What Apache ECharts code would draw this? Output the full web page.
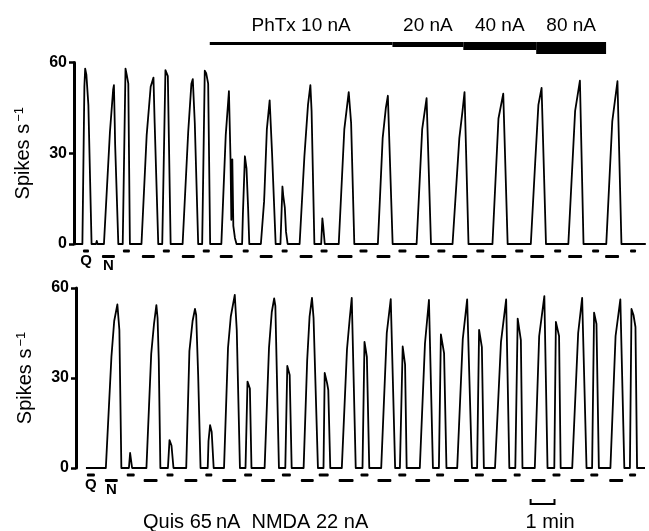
<!DOCTYPE html>
<html>
<head>
<meta charset="utf-8">
<script src="https://cdn.jsdelivr.net/npm/echarts@6/dist/echarts.min.js"></script>
<style>
	html, body { margin: 0; background: #fff; }
	#chart { width: 649px; height: 531px; }
</style>
</head>
<body>
<div id="chart"></div>
<script>
// time in seconds from the left axis, rate in spikes/s
const topTrace = [
	[3, 0], [21, 0], [26, 52], [28, 58], [31, 56], [36, 46], [44, 0], [55, 0], [57, 1], [59, 0],
	[75, 0], [90, 37], [98, 51], [100, 52.5], [102, 40], [103, 33], [111, 0],
	[122, 0], [129, 58], [132, 56], [136, 53], [140, 0],
	[169, 0], [182, 36], [192, 52], [199, 55], [202, 40], [211, 0],
	[221, 0], [229, 57.5], [235, 55.5], [242, 0],
	[272, 0], [286, 37], [294, 53], [297.5, 54.5], [302.5, 40], [311, 0],
	[321, 0], [327.5, 57.3], [331, 56.5], [336, 53], [341, 0],
	[369, 0], [380, 36], [388, 50.5], [392, 28], [394, 8], [396.5, 28], [399, 6], [403, 2], [407, 0],
	[421, 0], [423, 10], [428, 29], [432, 25], [436, 12], [439, 0],
	[468, 0], [476, 14], [477, 17], [483, 38], [490, 47.5], [496, 30], [505, 0],
	[517, 0], [522, 19], [524, 16], [528, 12], [531, 4], [535, 0],
	[565, 0], [577, 29], [586, 46], [592, 52.5], [595, 44], [602, 0],
	[619, 0], [622, 8.5], [624, 6], [628, 0],
	[663, 0], [677, 38], [688, 50.2], [694, 40], [702, 0],
	[761, 0], [773, 35], [781, 45], [786, 49], [798, 0],
	[858, 0], [872, 38], [883, 48.2], [894, 0],
	[948, 0], [965, 35], [973, 44], [978, 50.2], [988, 0],
	[1048, 0], [1063, 41.5], [1075, 49.7], [1086, 0],
	[1144, 0], [1155, 27], [1163, 46], [1171, 51.6], [1182, 0],
	[1238, 0], [1255, 44], [1267, 54], [1276, 0],
	[1333, 0], [1348, 40.5], [1361, 53.8], [1371, 0], [1432, 0]
];

const bottomTrace = [
	[25, 0], [75, 0], [89, 37], [96, 49], [104, 54.5], [106, 55], [109, 46], [114, 0],
	[133, 0], [136, 5], [138, 3], [141, 0],
	[177, 0], [189, 38], [196, 48], [202, 54.3], [205, 50], [208, 36], [212, 0],
	[231, 0], [235, 9.3], [240, 7.5], [245, 0],
	[277, 0], [285, 39], [293, 49], [299, 53], [302, 51], [307, 31], [313, 0],
	[331, 0], [333, 9], [337, 14.3], [341, 12], [346, 0],
	[372, 0], [382, 40], [389, 50.5], [399, 57.7], [404, 46], [412, 0],
	[426, 0], [431, 28.8], [437, 26.5], [441, 0],
	[474, 0], [485, 40], [492, 52], [498, 56.5], [501, 54], [510, 0],
	[526, 0], [531, 34], [537, 31], [542, 0],
	[572, 0], [581, 36], [587, 50.5], [593, 56.7], [597, 50], [608, 0],
	[622, 0], [625, 31.7], [631, 28.3], [634, 26], [639, 0],
	[668, 0], [681, 39.5], [688, 50], [693, 56.7], [703, 0],
	[720, 0], [725, 42], [731, 37], [737, 0],
	[767, 0], [781, 45], [791, 56.3], [802, 0],
	[814, 0], [821, 40.5], [827, 34.5], [831, 0],
	[864, 0], [877, 41.5], [887, 56], [897, 0],
	[912, 0], [917, 44.5], [925, 38.3], [931, 0],
	[958, 0], [972, 43], [983, 56.2], [995, 0],
	[1008, 0], [1013, 46], [1020, 40.3], [1025, 0],
	[1053, 0], [1068, 42], [1081, 56.2], [1089, 0],
	[1104, 0], [1110, 49.8], [1118, 42.6], [1122, 0],
	[1153, 0], [1164, 44], [1177, 57.3], [1185, 0],
	[1202, 0], [1206, 48.7], [1214, 44], [1218, 0],
	[1247, 0], [1262, 45], [1272, 56.7], [1283, 0],
	[1297, 0], [1302, 51.8], [1308, 48], [1314, 0],
	[1343, 0], [1356, 44], [1368, 56.2], [1378, 0],
	[1392, 0], [1396, 53], [1401, 51], [1406, 47], [1410, 0], [1430, 0]
];

// drug applications, [start, end] in s
const topQuis = [
	[22.5, 37.5], [122.5, 140], [222.5, 240], [322.5, 340], [422.5, 437.5], [520, 535],
	[617.5, 635], [715, 735], [812.5, 832.5], [910, 930], [1007.5, 1027.5], [1105, 1125],
	[1202.5, 1220], [1297.5, 1315], [1392.5, 1407.5]
];
const topNmda = [
	[70, 102.5], [170, 202.5], [270, 302.5], [365, 397.5], [465, 497.5], [565, 597.5],
	[660, 697.5], [757.5, 792.5], [855, 890], [947.5, 985], [1045, 1082.5], [1142.5, 1177.5],
	[1237.5, 1272.5], [1330, 1365]
];
const bottomQuis = [
	[27.5, 47.5], [127.5, 147.5], [227.5, 245], [325, 342.5], [422.5, 442.5], [517.5, 540],
	[610, 635], [715, 735], [810, 830], [905, 925], [1002.5, 1025], [1100, 1117.5],
	[1197.5, 1217.5], [1292.5, 1312.5], [1390, 1407.5]
];
const bottomNmda = [
	[72.5, 105], [170, 205], [272.5, 305], [367.5, 402.5], [465, 500], [565, 597.5],
	[660, 697.5], [757.5, 792.5], [852.5, 890], [950, 987.5], [1045, 1082.5], [1145, 1180],
	[1242.5, 1277.5], [1340, 1375]
];

// PhTx iontophoresis: [start, end, current nA]
const phtx = [[340, 797.5, 10], [797.5, 975, 20], [975, 1157.5, 40], [1157.5, 1332.5, 80]];
const phtxLabels = ['PhTx 10 nA', '20 nA', '40 nA', '80 nA'];

const yTicks = [0, 30, 60];
const scaleBar = [[1142.5, 1202.5]];
const scaleLabel = '1 min';
const currents = 'Quis 65\u2009nA  NMDA 22 nA';

const INK = '#000';
const FONT = '"Liberation Sans", Arial, Helvetica, sans-serif';
const barHeight = { 10: 3, 20: 5, 40: 8, 80: 12 };

const yAxis = gridIndex => ({
	gridIndex,
	type: 'value',
	min: yTicks[0],
	max: yTicks[yTicks.length - 1],
	interval: yTicks[1] - yTicks[0],
	splitLine: { show: false },
	axisLine: { show: true, lineStyle: { color: INK, width: 3 } },
	axisTick: { show: true, length: 5, lineStyle: { color: INK, width: 2.5 } },
	axisLabel: { color: INK, fontSize: 16, fontWeight: 'bold', fontFamily: FONT, margin: 7 },
	name: '{a|Spikes s}{b|\u22121}',
	nameLocation: 'middle',
	nameRotate: 90,
	nameGap: 41,
	nameTextStyle: {
		color: INK,
		fontFamily: FONT,
		rich: {
			a: { fontSize: 20, fontFamily: FONT, color: INK },
			b: { fontSize: 13, fontFamily: FONT, color: INK, verticalAlign: 'top', padding: [0, 0, 0, 2] }
		}
	}
});

const xAxis = gridIndex => ({ gridIndex, type: 'value', min: 0, max: 1440, show: false });

const trace = (gridIndex, data) => ({
	type: 'line',
	xAxisIndex: gridIndex,
	yAxisIndex: gridIndex,
	data,
	symbol: 'none',
	lineStyle: { color: INK, width: 1.8, join: 'round' },
	silent: true
});

const pulses = (gridIndex, data, drop, letter) => ({
	type: 'custom',
	xAxisIndex: gridIndex,
	yAxisIndex: gridIndex,
	data,
	silent: true,
	renderItem(params, api) {
		const a = api.coord([api.value(0), 0]),
			b = api.coord([api.value(1), 0]),
			y = a[1] + drop,
			bar = {
				type: 'rect',
				shape: { x: a[0], y: y - 1.6, width: b[0] - a[0], height: 3.2, r: 1 },
				style: { fill: INK }
			};
		if (params.dataIndex !== 0) {
			return bar;
		}
		return {
			type: 'group',
			children: [bar, {
				type: 'text',
				style: {
					text: letter, x: (a[0] + b[0]) / 2, y: y + 2,
					align: 'center', verticalAlign: 'top',
					font: 'bold 15px ' + FONT, fill: INK
				}
			}]
		};
	}
});

const chart = echarts.init(document.getElementById('chart'), null, { renderer: 'canvas' });

chart.setOption({
	animation: false,
	backgroundColor: '#fff',
	title: {
		text: currents,
		left: 143,
		top: 512,
		padding: 0,
		textStyle: { color: INK, fontSize: 20, fontWeight: 'normal', fontFamily: FONT }
	},
	grid: [
		{ left: 74, top: 62.5, width: 576, height: 181.5 },
		{ left: 76, top: 288, width: 576, height: 180 }
	],
	xAxis: [xAxis(0), xAxis(1)],
	yAxis: [yAxis(0), yAxis(1)],
	series: [
		trace(0, topTrace),
		trace(1, bottomTrace),
		pulses(0, topQuis, 7, 'Q'),
		pulses(0, topNmda, 12.5, 'N'),
		pulses(1, bottomQuis, 7, 'Q'),
		pulses(1, bottomNmda, 12.5, 'N'),
		{
			type: 'custom',
			xAxisIndex: 0,
			yAxisIndex: 0,
			data: phtx,
			silent: true,
			renderItem(params, api) {
				const a = api.coord([api.value(0), 60]),
					b = api.coord([api.value(1), 60]),
					top = a[1] - 20.5;
				return {
					type: 'group',
					children: [{
						type: 'rect',
						shape: { x: a[0], y: top, width: b[0] - a[0], height: barHeight[api.value(2)] },
						style: { fill: INK }
					}, {
						type: 'text',
						style: {
							text: phtxLabels[params.dataIndex], x: (a[0] + b[0]) / 2, y: top - 16.5,
							align: 'center', verticalAlign: 'middle',
							font: '19px ' + FONT, fill: INK
						}
					}]
				};
			}
		},
		{
			type: 'custom',
			xAxisIndex: 1,
			yAxisIndex: 1,
			data: scaleBar,
			silent: true,
			renderItem(params, api) {
				const a = api.coord([api.value(0), 0]),
					b = api.coord([api.value(1), 0]),
					y = a[1] + 36;
				return {
					type: 'group',
					children: [{
						type: 'polyline',
						shape: { points: [[a[0], y - 5], [a[0], y], [b[0], y], [b[0], y - 5]] },
						style: { stroke: INK, lineWidth: 2, fill: null }
					}, {
						type: 'text',
						style: {
							text: scaleLabel, x: a[0] - 5, y: y + 18,
							align: 'left', verticalAlign: 'middle',
							font: '20px ' + FONT, fill: INK
						}
					}]
				};
			}
		}
	]
});
</script>
</body>
</html>
